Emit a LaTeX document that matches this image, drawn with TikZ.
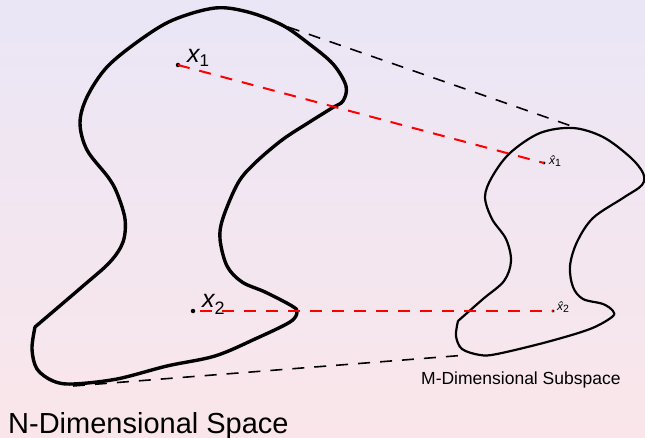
\documentclass[tikz,border=0pt]{standalone}
\usepackage{fontspec}
\setmainfont{Liberation Sans}
\definecolor{bgtop}{RGB}{234,230,246}
\definecolor{bgbot}{RGB}{250,230,234}
\begin{document}
\begin{tikzpicture}[x=1pt,y=-1pt,
  bigshape/.style={line width=3.4pt, line join=round, line cap=round},
  smallshape/.style={line width=2.2pt, line join=round, line cap=round},
  proj/.style={red, line width=2pt, dash pattern=on 12pt off 10pt},
  hull/.style={black, line width=1.6pt, dash pattern=on 12pt off 10pt},
  dotmark/.style={circle, fill=black, inner sep=0pt, minimum size=4.5pt},
  lbl/.style={anchor=base west, inner sep=0pt},
]
\shade[top color=bgtop, bottom color=bgbot] (0,0) rectangle (645,438);
\useasboundingbox (0,0) rectangle (645,438);

% N-dimensional shape
\draw[bigshape] plot[smooth, tension=0.55] coordinates {
 (35,327) (83,286) (110,262) (123,242) (125,219) (117,193) (108,177) (87,150)
 (80,123) (87,97) (107,67) (140,40) (173,20) (215,8) (248,12) (282,25)
 (308,43) (333,64) (346,86) (343,101) (332,108) (308,123) (282,140) (255,163)
 (238,183) (223,218) (220,239) (227,266) (242,282) (265,292) (292,306) (297,312)
 (290,322) (255,339) (215,356) (167,366) (117,379) (73,384) (53,381) (37,369)
 (32,349) (35,327)};

% M-dimensional shape
\draw[smallshape] plot[smooth, tension=0.55] coordinates {
 (458,321) (483,299) (504,281) (511,261) (506,239) (492,219) (485,197) (492,177)
 (510,153) (540,133) (573,128) (603,137) (630,157) (643,173) (642,185) (623,198)
 (593,218) (577,242) (570,266) (573,287) (583,299) (603,304) (613,311) (612,317)
 (590,329) (547,342) (497,354) (480,355) (462,349) (456,336) (458,321)};

% hull lines
\coordinate (h1a) at (288,27);
\coordinate (h1b) at (577,128);
\coordinate (h2a) at (73,386);
\coordinate (h2b) at (467,355);
\draw[hull] (h1a) -- (h1b);
\draw[hull] (h2a) -- (h2b);

% points
\node[dotmark] (x1) at (178,65) {};
\node[dotmark] (x2) at (193,311) {};
\node[dotmark, minimum size=3.2pt] (xh1) at (544,163) {};
\node[dotmark, minimum size=3.2pt] (xh2) at (553,311) {};
\coordinate (x2r) at (200,311);

\draw[proj] (x1.center) -- (xh1.center);
\draw[proj] (x2r) -- (xh2.center);

% labels
\node[lbl] (lx1) at (187,63) {\fontsize{25}{25}\selectfont\itshape x\raisebox{-4pt}{\fontsize{17}{17}\selectfont\upshape 1}};
\node[lbl] (lx2) at (202,308) {\fontsize{25}{25}\selectfont\itshape x\raisebox{-6pt}{\fontsize{18}{18}\selectfont\upshape 2}};
\node[lbl] (lxh1) at (549,165) {\fontsize{12}{12}\selectfont\itshape \^x\raisebox{-1.5pt}{\fontsize{10.5}{10.5}\selectfont\upshape 1}};
\node[lbl] (lxh2) at (557,310) {\fontsize{12}{12}\selectfont\itshape \^x\raisebox{-2.5pt}{\fontsize{10.5}{10.5}\selectfont\upshape 2}};

\node[lbl] (nspace) at (8,433) {\fontsize{29}{29}\selectfont N-Dimensional Space};
\node[lbl] (mspace) at (421,384) {\fontsize{17.5}{17.5}\selectfont M-Dimensional Subspace};
\end{tikzpicture}
\end{document}
